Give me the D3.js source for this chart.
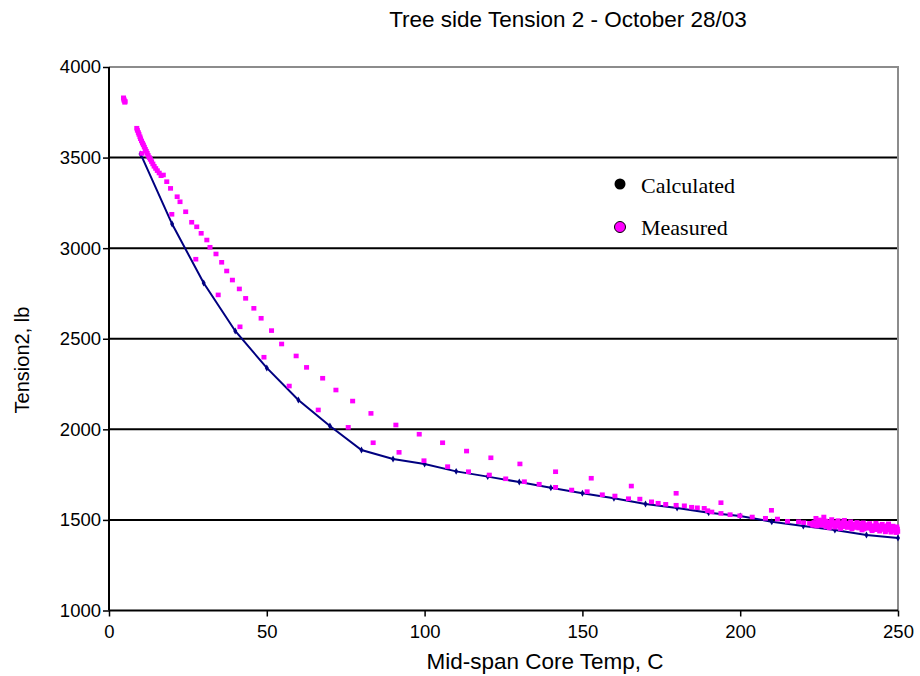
<!DOCTYPE html>
<html>
<head>
<meta charset="utf-8">
<script src="https://cdn.jsdelivr.net/npm/d3@7"></script>
<style>
  body { margin: 0; background: #fff; }
  svg text { font-family: "Liberation Sans", Arial, sans-serif; }
</style>
</head>
<body>
<div id="chart"></div>
<script>
// chart values
const title = "Tree side Tension 2 - October 28/03";
const xLabel = "Mid-span Core Temp, C";
const yLabel = "Tension2, lb";
const xTicks = [0, 50, 100, 150, 200, 250];
const yTicks = [1000, 1500, 2000, 2500, 3000, 3500, 4000];
const gridValues = [1500, 2000, 2500, 3000, 3500];

// calculated tension, every 10 C
const calcTemp = [10, 20, 30, 40, 50, 60, 70, 80, 90, 100, 110, 120, 130, 140, 150, 160, 170, 180, 190, 200, 210, 220, 230, 240, 250];
const calcTension = [3520, 3133, 2808, 2543, 2339, 2162, 2018, 1886, 1836, 1809, 1768, 1739, 1709, 1678, 1647, 1619, 1588, 1566, 1540, 1522, 1490, 1466, 1444, 1417, 1400];

// measured points [temp, tension]
const measuredStart = [
  [4.6, 3830], [4.8, 3815], [5.0, 3805], [4.7, 3822], [5.1, 3810],
  [8.8, 3662], [9.0, 3650], [9.3, 3638], [9.5, 3628], [9.8, 3615], [10.0, 3604],
  [10.3, 3592], [10.6, 3580], [10.9, 3570], [11.2, 3558], [11.5, 3546], [11.8, 3535],
  [12.1, 3524], [12.4, 3512], [12.8, 3500], [13.1, 3490], [13.5, 3478], [13.9, 3465],
  [14.3, 3452], [14.8, 3440], [15.3, 3428], [15.9, 3415], [16.5, 3400]
];
const measuredUpper = [
  [17.2, 3404], [18.3, 3367], [19.5, 3330], [21.6, 3284], [22.5, 3256], [24.3, 3201],
  [26.2, 3143], [27.8, 3118], [29.2, 3082], [31.0, 3045], [32.0, 3005], [33.9, 2968],
  [35.7, 2922], [37.3, 2874], [39.1, 2824], [41.3, 2775], [43.3, 2723], [45.9, 2668],
  [48.2, 2613], [51.5, 2545], [54.7, 2471], [59.3, 2405], [62.6, 2342], [67.7, 2282],
  [71.9, 2217], [77.2, 2156], [83.0, 2088], [90.9, 2024], [98.3, 1973], [105.7, 1926],
  [113.3, 1880], [121.0, 1843], [130.2, 1809], [141.5, 1766], [152.8, 1730], [165.5, 1687],
  [179.7, 1647], [193.9, 1595], [209.9, 1553], [224.0, 1509]
];
const measuredLower = [
  [10.4, 3523], [19.9, 3187], [27.5, 2939], [34.6, 2742], [41.5, 2566], [49.1, 2398],
  [57.1, 2239], [66.3, 2107], [75.8, 2011], [83.7, 1926], [91.9, 1873], [99.8, 1827],
  [107.3, 1794], [113.9, 1766], [120.5, 1748], [125.7, 1727], [131.6, 1711], [136.3, 1697],
  [141.5, 1680], [146.6, 1665], [151.5, 1656], [156.3, 1639], [160.3, 1632], [164.6, 1617],
  [168.2, 1615], [171.9, 1600], [174.0, 1592], [176.4, 1586], [179.7, 1581], [182.3, 1578],
  [184.6, 1570], [186.4, 1567], [188.6, 1564], [189.7, 1551], [191.0, 1544], [193.9, 1536],
  [196.8, 1529], [199.9, 1523], [203.8, 1516], [208.0, 1509], [211.8, 1505], [215.0, 1492],
  [218.5, 1490], [220.1, 1485], [222.0, 1481]
];
const measuredCluster = [
  [222.5, 1478], [223.0, 1470], [223.4, 1486], [223.9, 1475], [224.3, 1466], [224.8, 1490],
  [225.2, 1479], [225.6, 1470], [226.0, 1497], [226.4, 1484], [226.5, 1516], [226.8, 1474],
  [227.2, 1462], [227.6, 1488], [228.0, 1478], [228.4, 1468], [228.8, 1492], [229.2, 1481],
  [229.6, 1470], [230.0, 1460], [230.4, 1486], [230.8, 1476], [231.2, 1465], [231.6, 1483],
  [232.0, 1472], [232.4, 1462], [232.8, 1490], [233.2, 1478], [233.6, 1468], [234.0, 1458],
  [234.4, 1482], [234.8, 1472], [235.2, 1463], [235.6, 1478], [236.0, 1468], [236.4, 1458],
  [236.8, 1475], [237.2, 1465], [237.6, 1455], [238.0, 1480], [238.4, 1470], [238.8, 1460],
  [239.2, 1450], [239.6, 1474], [240.0, 1463], [240.4, 1454], [240.8, 1470], [241.2, 1460],
  [241.6, 1449], [242.0, 1466], [242.4, 1456], [242.8, 1446], [243.2, 1472], [243.6, 1462],
  [244.0, 1452], [244.4, 1468], [244.8, 1457], [245.2, 1447], [245.6, 1465], [246.0, 1455],
  [246.4, 1444], [246.8, 1470], [247.2, 1460], [247.6, 1450], [248.0, 1440], [248.4, 1466],
  [248.8, 1455], [249.2, 1445], [249.6, 1462], [249.8, 1450], [249.9, 1436],
  [225.0, 1500], [227.0, 1494], [229.0, 1502], [231.0, 1496], [233.0, 1498], [235.0, 1490],
  [237.0, 1486], [239.0, 1484], [241.0, 1480], [243.0, 1482], [245.0, 1476], [247.0, 1478],
  [228.2, 1456], [231.8, 1452], [235.4, 1450], [238.6, 1444], [241.8, 1440], [244.2, 1438],
  [246.0, 1434], [247.8, 1432], [249.4, 1430], [242.6, 1468], [236.2, 1472], [232.2, 1480]
];

const W = 920, H = 676;
const plotLeft = 109, plotRight = 898, plotTop = 67, plotBottom = 610.5;

const svg = d3.select("#chart")
  .append("svg")
  .attr("width", W)
  .attr("height", H)

const x = d3.scaleLinear().domain([0, 250]).range([plotLeft, plotRight]);
const y = d3.scaleLinear().domain([1000, 4000]).range([plotBottom, plotTop]);

// gridlines
svg.append("g")
  .selectAll("line")
  .data(gridValues)
  .join("line")
  .attr("x1", plotLeft).attr("x2", plotRight)
  .attr("y1", d => y(d)).attr("y2", d => y(d))
  .attr("stroke", "#000")
  .attr("stroke-width", 2)

// top and right frame (gray)
svg.append("path")
  .attr("d", `M${plotLeft},${y(4000)}H${x(250)}V${plotBottom}`)
  .attr("fill", "none")
  .attr("stroke", "#8c8c8c")
  .attr("stroke-width", 2)

// axes
const yAxis = svg.append("g")
  .attr("transform", `translate(${plotLeft},0)`)
  .call(d3.axisLeft(y).tickValues(yTicks).tickSize(6).tickPadding(2).tickFormat(d3.format("d")))
const xAxis = svg.append("g")
  .attr("transform", `translate(0,${plotBottom})`)
  .call(d3.axisBottom(x).tickValues(xTicks).tickSize(6).tickPadding(8).tickFormat(d3.format("d")))

;[yAxis, xAxis].forEach(a => {
  a.select(".domain").attr("stroke", "#000").attr("stroke-width", 2)
  a.selectAll(".tick line").attr("stroke", "#000").attr("stroke-width", 1.5)
  a.selectAll(".tick text")
    .attr("fill", "#000")
    .style("font-size", "18.5px")
    .style("font-family", "'Liberation Sans', Arial, sans-serif")
})
// axis lines without outer ticks
xAxis.select(".domain").attr("d", `M${plotLeft},0H${plotRight}`)
yAxis.select(".domain").attr("d", `M0,${plotTop}V${plotBottom}`)

// calculated line
const line = d3.line()
  .x((d, i) => x(calcTemp[i]))
  .y(d => y(d))

svg.append("path")
  .datum(calcTension)
  .attr("d", line)
  .attr("fill", "none")
  .attr("stroke", "#000080")
  .attr("stroke-width", 2)

svg.append("g")
  .selectAll("path")
  .data(calcTension)
  .join("path")
  .attr("transform", (d, i) => `translate(${x(calcTemp[i])},${y(d)})`)
  .attr("d", d3.symbol(d3.symbolDiamond, 14))
  .attr("fill", "#000080")

// measured points
const measured = measuredStart.concat(measuredUpper, measuredLower, measuredCluster);
svg.append("g")
  .selectAll("rect")
  .data(measured)
  .join("rect")
  .attr("x", d => x(d[0]) - 2.5)
  .attr("y", d => y(d[1]) - 2.3)
  .attr("width", 5)
  .attr("height", 4.6)
  .attr("fill", "#ff00ff")

// legend
const legend = svg.append("g")
legend.append("circle").attr("cx", 620).attr("cy", 184).attr("r", 5.5).attr("fill", "#000")
legend.append("circle").attr("cx", 620).attr("cy", 227).attr("r", 5.5).attr("fill", "#ff00ff").attr("stroke", "#000").attr("stroke-width", 1)
legend.append("text").attr("x", 641).attr("y", 193).text("Calculated")
  .style("font-family", "'Liberation Serif', 'Times New Roman', serif").style("font-size", "22px")
legend.append("text").attr("x", 641).attr("y", 235).text("Measured")
  .style("font-family", "'Liberation Serif', 'Times New Roman', serif").style("font-size", "22px")

// titles
svg.append("text")
  .attr("x", 568).attr("y", 27)
  .attr("text-anchor", "middle")
  .style("font-size", "22.5px")
  .text(title)

svg.append("text")
  .attr("x", 545).attr("y", 669)
  .attr("text-anchor", "middle")
  .style("font-size", "22.5px")
  .text(xLabel)

svg.append("text")
  .attr("transform", "translate(29,360) rotate(-90)")
  .attr("text-anchor", "middle")
  .style("font-size", "20px")
  .text(yLabel)
</script>
</body>
</html>
